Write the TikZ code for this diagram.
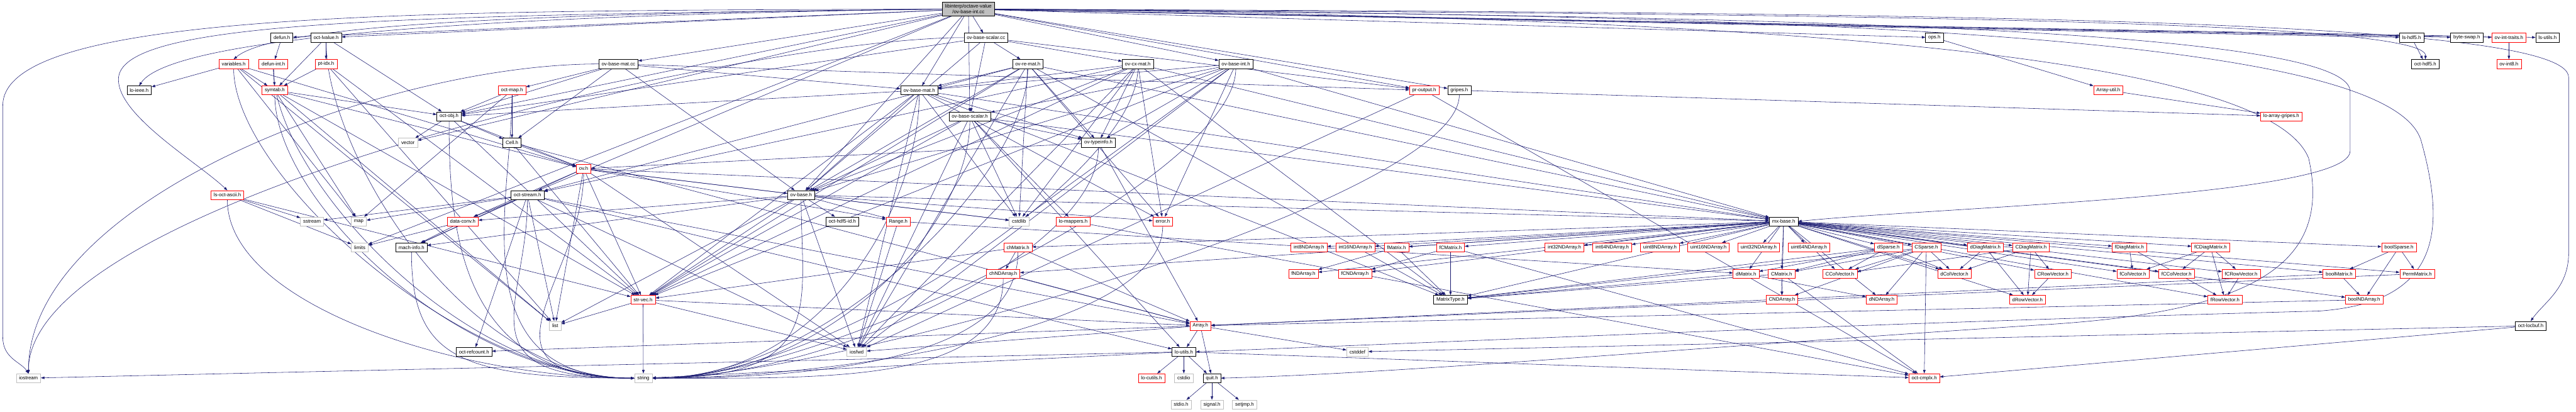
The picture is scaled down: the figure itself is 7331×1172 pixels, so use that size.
\documentclass[tikz,border=0pt]{standalone}
\usepackage{fontspec}
\setmainfont{Liberation Sans}
\usetikzlibrary{arrows.meta}
\definecolor{archi}{RGB}{25,25,112}
\definecolor{grigio}{RGB}{191,191,191}
\pgfdeclarelayer{sfondo}
\pgfsetlayers{sfondo,main}
\tikzset{
  hfile/.style={draw=black, fill=white, line width=1pt, minimum height=25.6pt,
    inner xsep=8pt, inner ysep=0pt, font=\fontsize{14}{16}\selectfont},
  tronco/.style={hfile, draw=red},
  sistema/.style={hfile, draw=grigio},
  arco/.style={draw=archi, line width=1pt, -{Triangle[length=10pt,width=7pt]}},
}
\begin{document}
\begin{tikzpicture}[x=1pt, y=-1pt]
    \useasboundingbox (0,0) rectangle (7331,1172);

    % Radice
    \node[hfile, fill=grigio, align=center, minimum height=40pt, inner ysep=2pt] (rt) at (2756,26) {libinterp/octave-value\\/ov-base-int.cc};

    % Riga 1
    \node[hfile] (defun) at (802,107) {defun.h};
    \node[hfile] (lvalue) at (928,107) {oct-lvalue.h};
    \node[hfile] (bscalcc) at (2806,107) {ov-base-scalar.cc};
    \node[hfile] (ops) at (5505,107) {ops.h};
    \node[hfile] (lshdf) at (6863,107) {ls-hdf5.h};
    \node[hfile] (bswap) at (7020,107) {byte-swap.h};
    \node[tronco] (inttraits) at (7140,107) {ov-int-traits.h};
    \node[hfile] (lsutils) at (7250,107) {ls-utils.h};

    % Riga 2
    \node[tronco] (variables) at (665,182) {variables.h};
    \node[tronco] (defunint) at (778,182) {defun-int.h};
    \node[tronco] (ptidx) at (928,182) {pt-idx.h};
    \node[hfile] (bmatcc) at (1760,182) {ov-base-mat.cc};
    \node[hfile] (remat) at (2925,182) {ov-re-mat.h};
    \node[hfile] (cxmat) at (3238,182) {ov-cx-mat.h};
    \node[hfile] (bint) at (3517,182) {ov-base-int.h};
    \node[hfile] (hdf5) at (6902,182) {oct-hdf5.h};
    \node[tronco] (int8) at (7140,182) {ov-int8.h};

    % Riga 3
    \node[hfile] (loieee) at (396,257) {lo-ieee.h};
    \node[tronco] (symtab) at (782,257) {symtab.h};
    \node[tronco] (octmap) at (1457,257) {oct-map.h};
    \node[hfile] (bmat) at (2616,257) {ov-base-mat.h};
    \node[tronco] (proutput) at (4053,257) {pr-output.h};
    \node[hfile] (gripes) at (4153,257) {gripes.h};
    \node[tronco] (arrutil) at (6000,257) {Array-util.h};

    % Righe 4-7
    \node[hfile] (octobj) at (1278,331) {oct-obj.h};
    \node[hfile] (bscal) at (2760,331) {ov-base-scalar.h};
    \node[tronco] (loagripes) at (6492,331) {lo-array-gripes.h};
    \node[sistema] (vector) at (1161,406) {vector};
    \node[hfile] (cell) at (1457,406) {Cell.h};
    \node[hfile] (typeinfo) at (3126,406) {ov-typeinfo.h};
    \node[tronco] (ov) at (1661,480) {ov.h};
    \node[tronco] (lsascii) at (647,555) {ls-oct-ascii.h};
    \node[hfile] (ostream) at (1501,555) {oct-stream.h};
    \node[hfile] (ovbase) at (2280,555) {ov-base.h};

    % Riga 8
    \node[sistema] (sstream) at (888,630) {sstream};
    \node[sistema] (map) at (1021,630) {map};
    \node[tronco] (dataconv) at (1317,630) {data-conv.h};
    \node[hfile] (hdf5id) at (2397,630) {oct-hdf5-id.h};
    \node[tronco] (range) at (2556,630) {Range.h};
    \node[sistema] (cstdlib) at (2900,630) {cstdlib};
    \node[tronco] (lomappers) at (3054,630) {lo-mappers.h};
    \node[tronco] (error) at (3309,630) {error.h};
    \node[hfile] (mxbase) at (5076,630) {mx-base.h};

    % Riga 9
    \node[sistema] (limits) at (1024,704) {limits};
    \node[hfile] (machinfo) at (1171,704) {mach-info.h};
    \node[tronco] (chmatrix) at (2897,704) {chMatrix.h};
    \node[tronco] (i8nd) at (3725,704) {int8NDArray.h};
    \node[tronco] (i16nd) at (3857,704) {int16NDArray.h};
    \node[tronco] (fmatrix) at (3974,704) {fMatrix.h};
    \node[tronco] (fcmatrix) at (4128,704) {fCMatrix.h};
    \node[tronco] (i32nd) at (4452,704) {int32NDArray.h};
    \node[tronco] (i64nd) at (4588,704) {int64NDArray.h};
    \node[tronco] (u8nd) at (4724,704) {uint8NDArray.h};
    \node[tronco] (u16nd) at (4862,704) {uint16NDArray.h};
    \node[tronco] (u32nd) at (5005,704) {uint32NDArray.h};
    \node[tronco] (u64nd) at (5148,704) {uint64NDArray.h};
    \node[tronco] (dsparse) at (5374,704) {dSparse.h};
    \node[tronco] (csparse) at (5482,704) {CSparse.h};
    \node[tronco] (ddiag) at (5650,704) {dDiagMatrix.h};
    \node[tronco] (cdiag) at (5780,704) {CDiagMatrix.h};
    \node[tronco] (fdiag) at (6060,704) {fDiagMatrix.h};
    \node[tronco] (fcdiag) at (6291,704) {fCDiagMatrix.h};
    \node[tronco] (boolsparse) at (6827,704) {boolSparse.h};

    % Riga 10
    \node[tronco] (chnd) at (2855,779) {chNDArray.h};
    \node[tronco] (fnd) at (3709,779) {fNDArray.h};
    \node[tronco] (fcnd) at (3856,779) {fCNDArray.h};
    \node[tronco] (dmatrix) at (4969,779) {dMatrix.h};
    \node[tronco] (cmatrix) at (5070,779) {CMatrix.h};
    \node[tronco] (ccolvec) at (5236,779) {CColVector.h};
    \node[tronco] (dcolvec) at (5562,779) {dColVector.h};
    \node[tronco] (crowvec) at (5842,779) {CRowVector.h};
    \node[tronco] (fcolvec) at (6070,779) {fColVector.h};
    \node[tronco] (fccolvec) at (6194,779) {fCColVector.h};
    \node[tronco] (fcrowvec) at (6378,779) {fCRowVector.h};
    \node[tronco] (boolmatrix) at (6657,779) {boolMatrix.h};
    \node[tronco] (permmatrix) at (6879,779) {PermMatrix.h};

    % Riga 11
    \node[tronco] (strvec) at (1830,853) {str-vec.h};
    \node[hfile] (mattype) at (4128,853) {MatrixType.h};
    \node[tronco] (cnd) at (5071,853) {CNDArray.h};
    \node[tronco] (dnd) at (5355,853) {dNDArray.h};
    \node[tronco] (drowvec) at (5770,853) {dRowVector.h};
    \node[tronco] (frowvec) at (6332,853) {fRowVector.h};
    \node[tronco] (boolnd) at (6728,853) {boolNDArray.h};

    % Righe 12-15
    \node[sistema] (list) at (1580,927) {list};
    \node[tronco] (array) at (3416,927) {Array.h};
    \node[hfile] (locbuf) at (7202,927) {oct-locbuf.h};
    \node[hfile] (refcount) at (1349,1001) {oct-refcount.h};
    \node[sistema] (iosfwd) at (2438,1001) {iosfwd};
    \node[hfile] (loutils) at (3369,1001) {lo-utils.h};
    \node[sistema] (cstddef) at (3863,1001) {cstddef};
    \node[sistema] (iostream) at (81,1076) {iostream};
    \node[sistema] (string) at (1831,1076) {string};
    \node[tronco] (locutils) at (3277,1076) {lo-cutils.h};
    \node[sistema] (cstdio) at (3369,1076) {cstdio};
    \node[hfile] (quit) at (3449,1076) {quit.h};
    \node[tronco] (cmplx) at (5476,1076) {oct-cmplx.h};
    \node[sistema] (stdio) at (3361,1151) {stdio.h};
    \node[sistema] (signal) at (3449,1151) {signal.h};
    \node[sistema] (setjmp) at (3542,1151) {setjmp.h};

    \begin{pgfonlayer}{sfondo}
    % Archi dalla radice
    \foreach \t in {bscalcc,bmat,bscal,bint,proutput,gripes,ops,lshdf,bswap,inttraits,lsutils,defun,lvalue,octobj,vector,bmatcc,ostream,ovbase,limits}
        \draw[arco] (rt) -- (\t);
    \draw[arco] (rt.west) .. controls (1500,38) and (780,70) .. (variables.north);
    \draw[arco] (rt.west) .. controls (1600,40) and (500,90) .. (loieee.north);
    \draw[arco] (rt.west) .. controls (1100,44) and (337,60) .. (337,226) .. controls (337,330) and (560,460) .. (lsascii.north);
    \draw[arco] (rt.west) .. controls (1200,30) and (8,30) .. (8,300) -- (8,960) .. controls (8,1020) and (60,1030) .. (iostream.north);
    \draw[arco] (rt.east) .. controls (5000,40) and (6912,50) .. (hdf5.north);
    \draw[arco] (rt.east) .. controls (5500,36) and (7310,50) .. (7310,220) -- (7310,720) .. controls (7310,820) and (7240,860) .. (locbuf.north);
    \draw[arco] (rt.east) .. controls (4600,45) and (6688,60) .. (6688,260) -- (6688,430) .. controls (6688,560) and (5500,590) .. (mxbase.east);
    \draw[arco] (rt.east) .. controls (5200,42) and (6800,100) .. (6890,400) .. controls (6960,650) and (6950,860) .. (6600,885) .. controls (5300,920) and (4200,970) .. (loutils.east);
    \draw[arco] (rt.east) .. controls (5000,48) and (6450,150) .. (6570,450) .. controls (6640,760) and (6400,890) .. (5800,925) .. controls (4800,990) and (4000,1062) .. (quit.east);

    % Archi verso string e iostream
    \foreach \s in {lvalue,variables,defunint,symtab,octmap,octobj,ov,lsascii,ostream,machinfo}
        \draw[arco] (\s.south) .. controls +(0,300) and +(-500,0) .. (string.west);
    \foreach \s in {remat,cxmat,bint,bmat,bscal,typeinfo,ovbase,error,chmatrix,chnd,gripes}
        \draw[arco] (\s.south) .. controls +(0,300) and +(500,0) .. (string.east);
    \foreach \s in {bmatcc,bscalcc}
        \draw[arco] (\s.west) .. controls +(-600,0) and +(0,-500) .. (iostream.north);

    % Parte interprete
    \draw[arco] (defun) -- (defunint);
    \foreach \t in {ptidx,symtab,octobj} \draw[arco] (lvalue) -- (\t);
    \foreach \t in {remat,cxmat,bscal,octobj,ovbase,proutput} \draw[arco] (bscalcc) -- (\t);
    \draw[arco] (ops) -- (arrutil);
    \draw[arco] (lshdf) -- (hdf5);
    \draw[arco] (inttraits) -- (int8);
    \foreach \t in {loieee,symtab,ov,list,map} \draw[arco] (variables) -- (\t);
    \draw[arco] (defunint) -- (symtab);
    \foreach \t in {symtab,strvec,list} \draw[arco] (ptidx) -- (\t);
    \foreach \t in {octmap,cell,octobj,ovbase,bmat,proutput} \draw[arco] (bmatcc) -- (\t);
    \foreach \t in {cstdlib,iosfwd,mxbase,strvec,error,ostream,ovbase,bmat,typeinfo,mattype} {
        \draw[arco] (remat) -- (\t);
        \draw[arco] (cxmat) -- (\t);
    }
    \foreach \t in {cstdlib,iosfwd,mxbase,strvec,error,ovbase,bmat,bscal,typeinfo} \draw[arco] (bint) -- (\t);
    \foreach \t in {octobj,map,list,strvec,ov} \draw[arco] (symtab) -- (\t);
    \foreach \t in {octobj,cell,map} \draw[arco] (octmap) -- (\t);
    \foreach \t in {cstdlib,iosfwd,mxbase,mattype,strvec,error,octobj,ovbase,typeinfo} \draw[arco] (bmat) -- (\t);
    \foreach \t in {iosfwd,cmplx} \draw[arco] (proutput) -- (\t);
    \draw[arco] (gripes) -- (loagripes);
    \draw[arco] (arrutil) -- (loagripes);
    \foreach \t in {vector,cell,ov,strvec} \draw[arco] (octobj) -- (\t);
    \foreach \t in {cstdlib,iosfwd,lomappers,loutils,strvec,mxbase,ovbase,typeinfo} \draw[arco] (bscal) -- (\t);
    \foreach \t in {ov,strvec,array} \draw[arco] (cell) -- (\t);
    \foreach \t in {ov,array} \draw[arco] (typeinfo) -- (\t);
    \foreach \t in {ovbase,cstdlib,iosfwd,list,range,dataconv,machinfo,mxbase,strvec} \draw[arco] (ov) -- (\t);
    \foreach \t in {sstream,limits,strvec} \draw[arco] (lsascii) -- (\t);
    \foreach \t in {iosfwd,sstream,map,dataconv,machinfo,array,loutils,refcount,list} \draw[arco] (ostream) -- (\t);
    \foreach \t in {cstdlib,iosfwd,list,range,dataconv,mxbase,strvec,error,hdf5id,machinfo} \draw[arco] (ovbase) -- (\t);
    \foreach \t in {limits,machinfo} \draw[arco] (dataconv) -- (\t);
    \foreach \t in {iosfwd,dmatrix} \draw[arco] (range) -- (\t);
    \draw[arco] (lomappers) -- (cmplx);

    % Parte liboctave
    \foreach \t in {mattype,boolmatrix,chmatrix,dmatrix,cmatrix,fmatrix,fcmatrix,dcolvec,ccolvec,fcolvec,fccolvec,drowvec,crowvec,frowvec,fcrowvec,ddiag,cdiag,fdiag,fcdiag,permmatrix,boolnd,chnd,dnd,cnd,fnd,fcnd,i8nd,i16nd,i32nd,i64nd,u8nd,u16nd,u32nd,u64nd,boolsparse,dsparse,csparse}
        \draw[arco] (mxbase) -- (\t);
    \foreach \t in {chnd,array,strvec} \draw[arco] (chmatrix) -- (\t);
    \draw[arco] (chnd) -- (array);
    \foreach \t in {fnd,mattype} \draw[arco] (fmatrix) -- (\t);
    \foreach \t in {fcnd,mattype,cmplx} \draw[arco] (fcmatrix) -- (\t);
    \foreach \t in {dmatrix,cmatrix,ccolvec,dcolvec,mattype} \draw[arco] (dsparse) -- (\t);
    \foreach \t in {cmatrix,ccolvec,cnd,dnd,cmplx,dcolvec,mattype} \draw[arco] (csparse) -- (\t);
    \foreach \t in {dcolvec,drowvec} \draw[arco] (ddiag) -- (\t);
    \foreach \t in {ccolvec,dcolvec,crowvec,drowvec} \draw[arco] (cdiag) -- (\t);
    \foreach \t in {fcolvec,frowvec} \draw[arco] (fdiag) -- (\t);
    \foreach \t in {fcolvec,fccolvec,fcrowvec,frowvec} \draw[arco] (fcdiag) -- (\t);
    \foreach \t in {boolmatrix,boolnd,permmatrix} \draw[arco] (boolsparse) -- (\t);
    \foreach \t in {dnd,mattype} \draw[arco] (dmatrix) -- (\t);
    \foreach \t in {cnd,cmplx,mattype} \draw[arco] (cmatrix) -- (\t);
    \draw[arco] (crowvec) -- (drowvec);
    \draw[arco] (fcrowvec) -- (frowvec);
    \foreach \t in {boolnd,array} \draw[arco] (boolmatrix) -- (\t);
    \draw[arco] (permmatrix) -- (array);
    \draw[arco] (boolnd) -- (array);
    \foreach \t in {list,string,iosfwd,array} \draw[arco] (strvec) -- (\t);
    \foreach \t in {loutils,quit,iosfwd,cstddef,refcount} \draw[arco] (array) -- (\t);
    \foreach \t in {cstddef,cmplx} \draw[arco] (locbuf) -- (\t);
    \foreach \t in {locutils,cstdio,quit,iostream,string,cmplx} \draw[arco] (loutils) -- (\t);
    \foreach \t in {stdio,signal,setjmp} \draw[arco] (quit) -- (\t);
    \end{pgfonlayer}
\end{tikzpicture}
\end{document}
